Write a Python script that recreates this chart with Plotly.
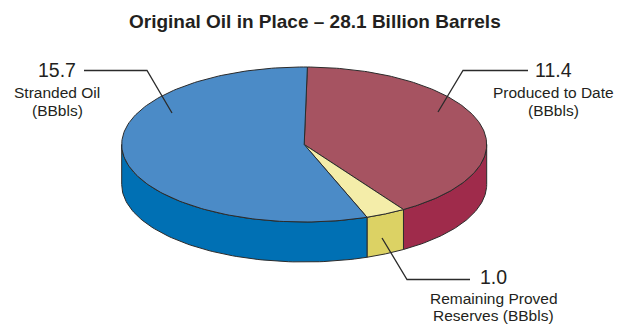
import numpy as np
import plotly.graph_objects as go

# Original oil in place, billion barrels
categories = ["Produced to Date", "Remaining Proved Reserves", "Stranded Oil"]
values = [11.4, 1.0, 15.7]
value_labels = ["11.4", "1.0", "15.7"]
top_colors = ["#a65361", "#f4eda9", "#4b8bc7"]
side_colors = ["#9f2b4b", "#dcd264", "#0070b4"]

title_text = "Original Oil in Place \u2013 28.1 Billion Barrels"

# Drawing geometry (pixel space of the page)
W, H = 617, 324
cx, cy = 304.2, 144.5
rx, ry = 182.5, 77.5
depth = 40.0
rotation = 1.0  # degrees clockwise from twelve o'clock
edge = "#2b2b2b"
font_family = "Liberation Sans, Arial, sans-serif"
text_color = "#231f20"


def rim(theta_deg, dy=0.0):
    t = np.radians(theta_deg)
    return cx + rx * np.sin(t), cy - ry * np.cos(t) + dy


fig = go.Figure()

total = sum(values)
spans = []
start = rotation
for v in values:
    end = start + 360.0 * v / total
    spans.append((start, end))
    start = end

# Side walls: only the front half (90..270 degrees, clockwise from top) is visible
for (a, b), col in zip(spans, side_colors):
    lo, hi = max(a, 90.0), min(b, 270.0)
    if hi <= lo:
        continue
    th = np.linspace(lo, hi, 80)
    xt, yt = rim(th)
    xb, yb = rim(th[::-1], depth)
    xs = np.concatenate([xt, xb, xt[:1]])
    ys = np.concatenate([yt, yb, yt[:1]])
    fig.add_trace(go.Scatter(x=xs, y=ys, mode="lines", fill="toself",
                             fillcolor=col, line=dict(color=edge, width=1),
                             hoverinfo="skip", showlegend=False))

# Top face slices
for (a, b), col, name in zip(spans, top_colors, categories):
    th = np.linspace(a, b, 160)
    xt, yt = rim(th)
    xs = np.concatenate([[cx], xt, [cx]])
    ys = np.concatenate([[cy], yt, [cy]])
    fig.add_trace(go.Scatter(x=xs, y=ys, mode="lines", fill="toself",
                             fillcolor=col, line=dict(color=edge, width=1),
                             name=name, hoverinfo="name", showlegend=False))

# Leader lines
leaders = [
    "M 172 113 L 147 70.5 L 84 70.5",
    "M 438 112 L 463 70.5 L 528 70.5",
    "M 382 238 L 407 279.5 L 470 279.5",
]
shapes = [dict(type="path", path=p, xref="x", yref="y",
               line=dict(color=edge, width=1.3)) for p in leaders]

num_font = dict(family=font_family, size=19.5, color=text_color)
lab_font = dict(family=font_family, size=15.5, color=text_color)

def label_block(x, y_num, lines, y_lines):
    out = []
    out.append(dict(x=x, y=y_num, text=lines[0], font=num_font))
    for t, yy in zip(lines[1:], y_lines):
        out.append(dict(x=x, y=yy, text=t, font=lab_font))
    return out

annotations = []
annotations += label_block(57, 70, [value_labels[2], "Stranded Oil", "(BBbls)"], [92, 110])
annotations += label_block(553, 70, [value_labels[0], "Produced to Date", "(BBbls)"], [92, 110])
annotations += label_block(493.5, 277, [value_labels[1], "Remaining Proved", "Reserves (BBbls)"], [298, 315.5])
for a in annotations:
    a.update(xref="x", yref="y", showarrow=False, xanchor="center", yanchor="middle")

annotations.append(dict(x=315, y=21, xref="x", yref="y", text="<b>" + title_text + "</b>",
                        showarrow=False, xanchor="center", yanchor="middle",
                        font=dict(family=font_family, size=19, color=text_color)))

fig.update_layout(
    width=W, height=H,
    margin=dict(l=0, r=0, t=0, b=0),
    paper_bgcolor="white", plot_bgcolor="white",
    xaxis=dict(range=[0, W], visible=False, fixedrange=True),
    yaxis=dict(range=[H, 0], visible=False, fixedrange=True),
    shapes=shapes,
    annotations=annotations,
)

fig.write_html("out.html", config={"displayModeBar": False})
